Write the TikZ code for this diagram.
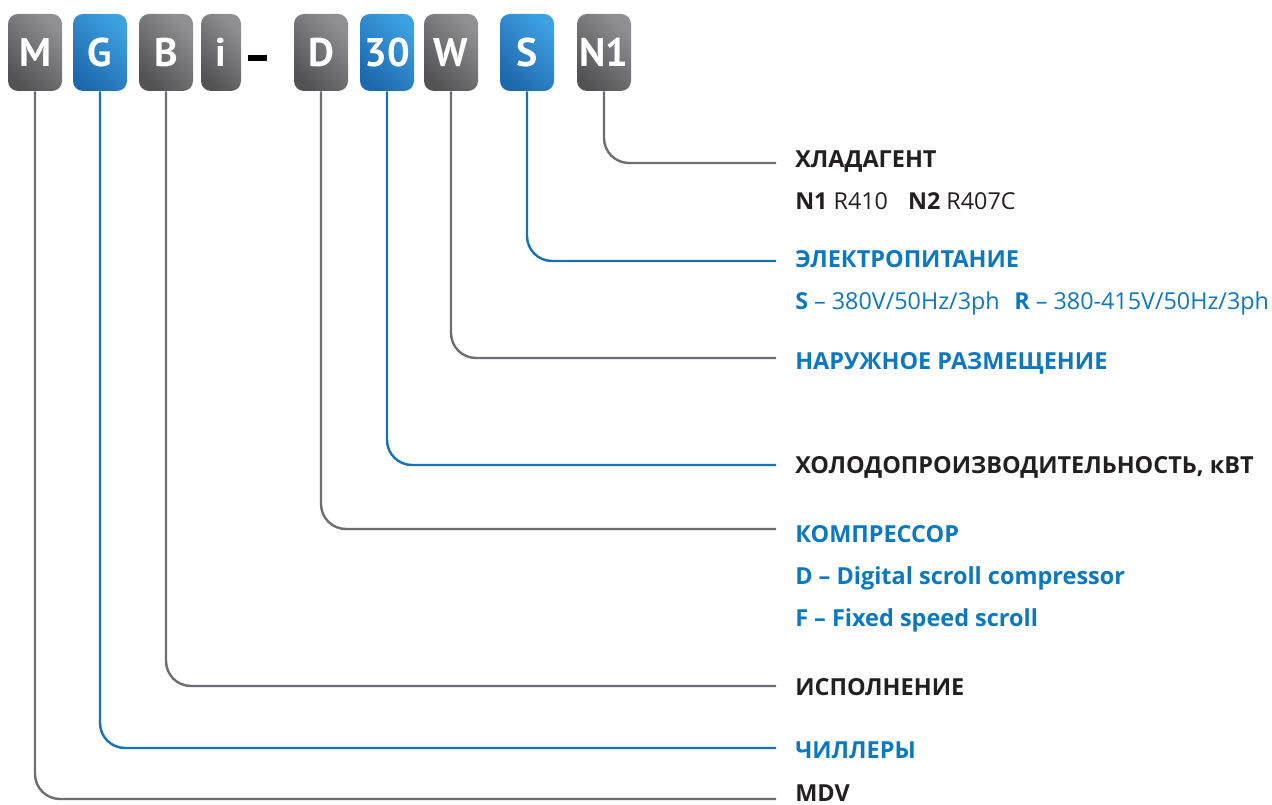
\documentclass[tikz,border=0pt]{standalone}
\usepackage{fontspec}
\setmainfont{Open Sans}
\newfontfamily\codefont{PT Sans}
\usetikzlibrary{calc}

\definecolor{linegray}{HTML}{6D6E71}
\definecolor{lineblue}{HTML}{1572B8}
\definecolor{textdark}{HTML}{231F20}
\definecolor{textblue}{HTML}{0B78C0}
\definecolor{graylight}{HTML}{909092}
\definecolor{graydark}{HTML}{535355}
\definecolor{bluelight}{HTML}{3DA0E0}
\definecolor{bluedark}{HTML}{1E69AE}

\tikzset{
  codebox/.style={rounded corners=7.5pt,minimum width=40.5pt,minimum height=57.75pt,
    inner sep=0pt,text=white,font=\codefont\fontsize{30}{30}\selectfont\bfseries},
  graybox/.style={codebox,top color=graylight,bottom color=graydark,shading angle=-45},
  bluebox/.style={codebox,top color=bluelight,bottom color=bluedark,shading angle=-45},
  narrowbox/.style={minimum width=30pt},
  grayline/.style={line width=1.8pt,color=linegray,rounded corners=18.75pt},
  blueline/.style={line width=1.8pt,color=lineblue,rounded corners=18.75pt},
  headdark/.style={anchor=base west,inner sep=0pt,text=textdark,
    font=\fontsize{17.6}{17.6}\selectfont\bfseries},
  headblue/.style={headdark,text=textblue},
  subdark/.style={anchor=base west,inner sep=0pt,text=textdark,
    font=\fontsize{17.5}{17.5}\selectfont},
  subblue/.style={subdark,text=textblue}
}

\begin{document}
\begin{tikzpicture}[x=0.75pt,y=-0.75pt]
%\draw[help lines,step=50] (0,0) grid (1272,805);
\useasboundingbox (0,0) rectangle (1272,805);

% code letters
\node[graybox] (m) at (35,52.5) {M};
\node[bluebox] (g) at (100,52.5) {G};
\node[graybox] (b) at (166,52.5) {B};
\node[graybox,narrowbox] (i) at (221,52.5) {i};
\node[fill=black,minimum width=14.25pt,minimum height=4.5pt,inner sep=0pt] (dash) at (257.5,58) {};
\node[graybox] (d) at (321,52.5) {D};
\node[bluebox] (thirty) at (387,52.5) {30};
\node[graybox] (w) at (451,52.5) {W};
\node[bluebox] (s) at (527,52.5) {S};
\node[graybox] (n) at (604,52.5) {N1};

% legend
\node[headdark] (refrigerant) at (795,168) {ХЛАДАГЕНТ};
\node[subdark] (refrigerant-opt) at (795,210) {\textbf{N1} R410\hspace{15pt}\textbf{N2} R407C};
\node[headblue] (power) at (795,268) {ЭЛЕКТРОПИТАНИЕ};
\node[subblue] (power-opt) at (795,310) {\textbf{S} – 380V/50Hz/3ph\hspace{11pt}\textbf{R} – 380-415V/50Hz/3ph};
\node[headblue] (outdoor) at (795,370) {НАРУЖНОЕ РАЗМЕЩЕНИЕ};
\node[headdark] (capacity) at (795,474) {ХОЛОДОПРОИЗВОДИТЕЛЬНОСТЬ, кВТ};
\node[headblue] (compressor) at (795,543) {КОМПРЕССОР};
\node[headblue] (compressor-d) at (795,585) {D – Digital scroll compressor};
\node[headblue] (compressor-f) at (795,627) {F – Fixed speed scroll};
\node[headdark] (version) at (795,695) {ИСПОЛНЕНИЕ};
\node[headblue] (chillers) at (795,758) {ЧИЛЛЕРЫ};
\node[headdark] (mdv) at (795,801) {MDV};

% line ends
\coordinate (refrigerant-end) at (776,163);
\coordinate (power-end) at (776,261);
\coordinate (outdoor-end) at (776,358);
\coordinate (capacity-end) at (776,465);
\coordinate (compressor-end) at (776,529);
\coordinate (version-end) at (776,686);
\coordinate (chillers-end) at (776,748);
\coordinate (mdv-end) at (776,799);

\draw[grayline] (n.south) |- (refrigerant-end);
\draw[blueline] (s.south) |- (power-end);
\draw[grayline] (w.south) |- (outdoor-end);
\draw[blueline] (thirty.south) |- (capacity-end);
\draw[grayline] (d.south) |- (compressor-end);
\draw[grayline] (b.south) |- (version-end);
\draw[blueline] (g.south) |- (chillers-end);
\draw[grayline] (m.south) |- (mdv-end);
\end{tikzpicture}
\end{document}
